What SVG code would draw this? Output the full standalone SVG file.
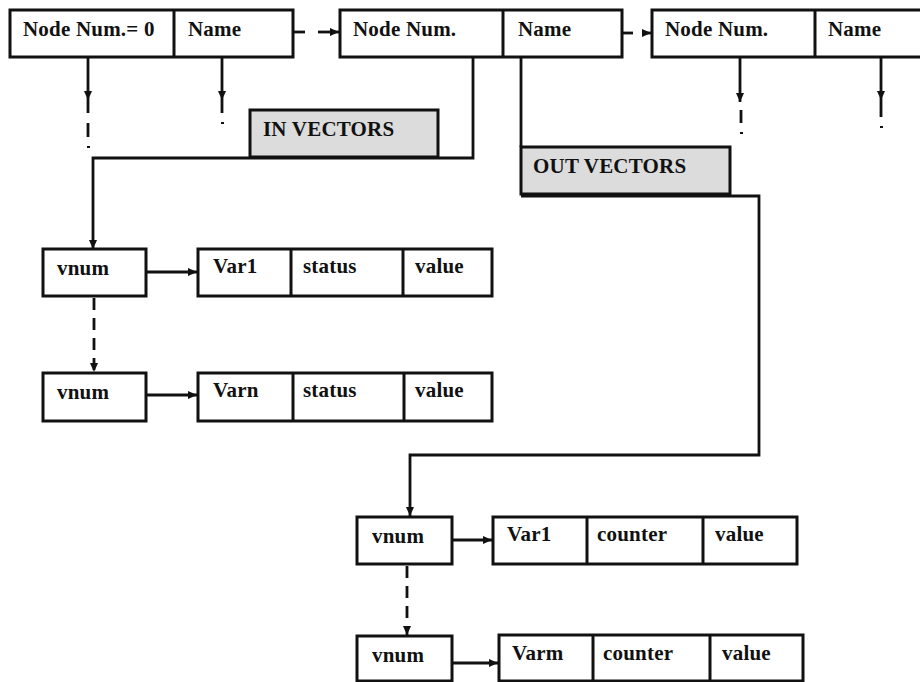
<svg xmlns="http://www.w3.org/2000/svg" width="920" height="682" viewBox="0 0 920 682">
<style>
.box{fill:#fff;stroke:#111;stroke-width:3}
.gbox{fill:#dcdcdc;stroke:#111;stroke-width:3}
.div{stroke:#111;stroke-width:3}
.t{font-family:"Liberation Serif","Times New Roman",serif;font-weight:bold;font-size:21px;letter-spacing:0.2px;fill:#111}
.ln{fill:none;stroke:#111;stroke-width:2.8}
.dash{fill:none;stroke:#111;stroke-width:2.8;stroke-dasharray:12,8}
.dot{fill:#111}
</style>
<defs>
<marker id="ah" markerWidth="10" markerHeight="10" refX="9" refY="5" orient="auto" markerUnits="userSpaceOnUse">
<path d="M0,1 L9,5 L0,9 Z" fill="#111"/>
</marker>
</defs>
<rect width="920" height="682" fill="#fff"/>

<g id="node0">
<rect class="box" x="10" y="10" width="283" height="47"/>
<line class="div" x1="174" y1="10" x2="174" y2="57"/>
<text class="t" x="23" y="36">Node Num.= 0</text>
<text class="t" x="188" y="36">Name</text>
</g>
<g id="node1">
<rect class="box" x="340" y="10" width="282" height="47"/>
<line class="div" x1="503" y1="10" x2="503" y2="57"/>
<text class="t" x="353" y="36">Node Num.</text>
<text class="t" x="518" y="36">Name</text>
</g>
<g id="node2">
<rect class="box" x="652" y="10" width="275" height="47"/>
<line class="div" x1="815" y1="10" x2="815" y2="57"/>
<text class="t" x="665" y="36">Node Num.</text>
<text class="t" x="828" y="36">Name</text>
</g>
<g id="in-vectors">
<rect class="gbox" x="250" y="110" width="188" height="47"/>
<text class="t" x="263" y="136">IN VECTORS</text>
</g>
<g id="out-vectors">
<rect class="gbox" x="521" y="147" width="209" height="47"/>
<text class="t" x="533" y="173">OUT VECTORS</text>
</g>

<g id="in-vnum1">
<rect class="box" x="43" y="249" width="103" height="47"/>
<text class="t" x="57" y="275">vnum</text>
</g>
<g id="in-var1">
<rect class="box" x="198" y="249" width="294" height="47"/>
<line class="div" x1="291" y1="249" x2="291" y2="296"/>
<line class="div" x1="403" y1="249" x2="403" y2="296"/>
<text class="t" x="213" y="273">Var1</text>
<text class="t" x="303" y="273">status</text>
<text class="t" x="415" y="273">value</text>
</g>
<g id="in-vnum2">
<rect class="box" x="43" y="373" width="103" height="48"/>
<text class="t" x="57" y="399">vnum</text>
</g>
<g id="in-varn">
<rect class="box" x="198" y="373" width="294" height="48"/>
<line class="div" x1="293" y1="373" x2="293" y2="421"/>
<line class="div" x1="404" y1="373" x2="404" y2="421"/>
<text class="t" x="213" y="397">Varn</text>
<text class="t" x="303" y="397">status</text>
<text class="t" x="415" y="397">value</text>
</g>

<g id="out-vnum1">
<rect class="box" x="357" y="517" width="95" height="47"/>
<text class="t" x="372" y="543">vnum</text>
</g>
<g id="out-var1">
<rect class="box" x="493" y="517" width="304" height="47"/>
<line class="div" x1="587" y1="517" x2="587" y2="564"/>
<line class="div" x1="703" y1="517" x2="703" y2="564"/>
<text class="t" x="507" y="541">Var1</text>
<text class="t" x="597" y="541">counter</text>
<text class="t" x="715" y="541">value</text>
</g>
<g id="out-vnum2">
<rect class="box" x="357" y="636" width="95" height="45"/>
<text class="t" x="372" y="662">vnum</text>
</g>
<g id="out-varm">
<rect class="box" x="499" y="635" width="304" height="46"/>
<line class="div" x1="593" y1="635" x2="593" y2="681"/>
<line class="div" x1="710" y1="635" x2="710" y2="681"/>
<text class="t" x="512" y="660">Varm</text>
<text class="t" x="603" y="660">counter</text>
<text class="t" x="722" y="660">value</text>
</g>

<g id="connectors">
<line class="ln" x1="293" y1="32" x2="305" y2="32"/>
<line class="ln" x1="318" y1="32" x2="339" y2="32" marker-end="url(#ah)"/>
<line class="ln" x1="622" y1="33" x2="633" y2="33"/>
<line class="ln" x1="642" y1="33" x2="651" y2="33" marker-end="url(#ah)"/>
<line class="ln" x1="88" y1="57" x2="88" y2="100" marker-end="url(#ah)"/>
<line class="ln" x1="88" y1="100" x2="88" y2="113"/>
<line class="ln" x1="88" y1="123" x2="88" y2="137"/>
<rect class="dot" x="87" y="146" width="3" height="2"/>
<line class="ln" x1="222" y1="57" x2="222" y2="100" marker-end="url(#ah)"/>
<line class="ln" x1="222" y1="100" x2="222" y2="113"/>
<rect class="dot" x="221" y="122" width="3" height="2"/>
<line class="ln" x1="740" y1="57" x2="740" y2="102" marker-end="url(#ah)"/>
<line class="ln" x1="741" y1="110" x2="741" y2="123"/>
<rect class="dot" x="740" y="132" width="3" height="2"/>
<line class="ln" x1="881" y1="57" x2="881" y2="100" marker-end="url(#ah)"/>
<line class="ln" x1="881" y1="100" x2="881" y2="117"/>
<rect class="dot" x="880" y="126" width="3" height="2"/>
<path class="ln" d="M473,57 V158 H93 V249" marker-end="url(#ah)"/>
<line class="ln" x1="146" y1="272" x2="197" y2="272" marker-end="url(#ah)"/>
<line class="dash" x1="94" y1="298" x2="94" y2="372" marker-end="url(#ah)"/>
<line class="ln" x1="146" y1="395" x2="197" y2="395" marker-end="url(#ah)"/>
<line class="ln" x1="521" y1="57" x2="521" y2="147"/>
<path class="ln" d="M521,196 H759 V455 H410 V516" marker-end="url(#ah)"/>
<line class="ln" x1="452" y1="540" x2="492" y2="540" marker-end="url(#ah)"/>
<line class="dash" x1="407" y1="566" x2="407" y2="635" marker-end="url(#ah)"/>
<line class="ln" x1="452" y1="663" x2="498" y2="663" marker-end="url(#ah)"/>
</g>
</svg>
